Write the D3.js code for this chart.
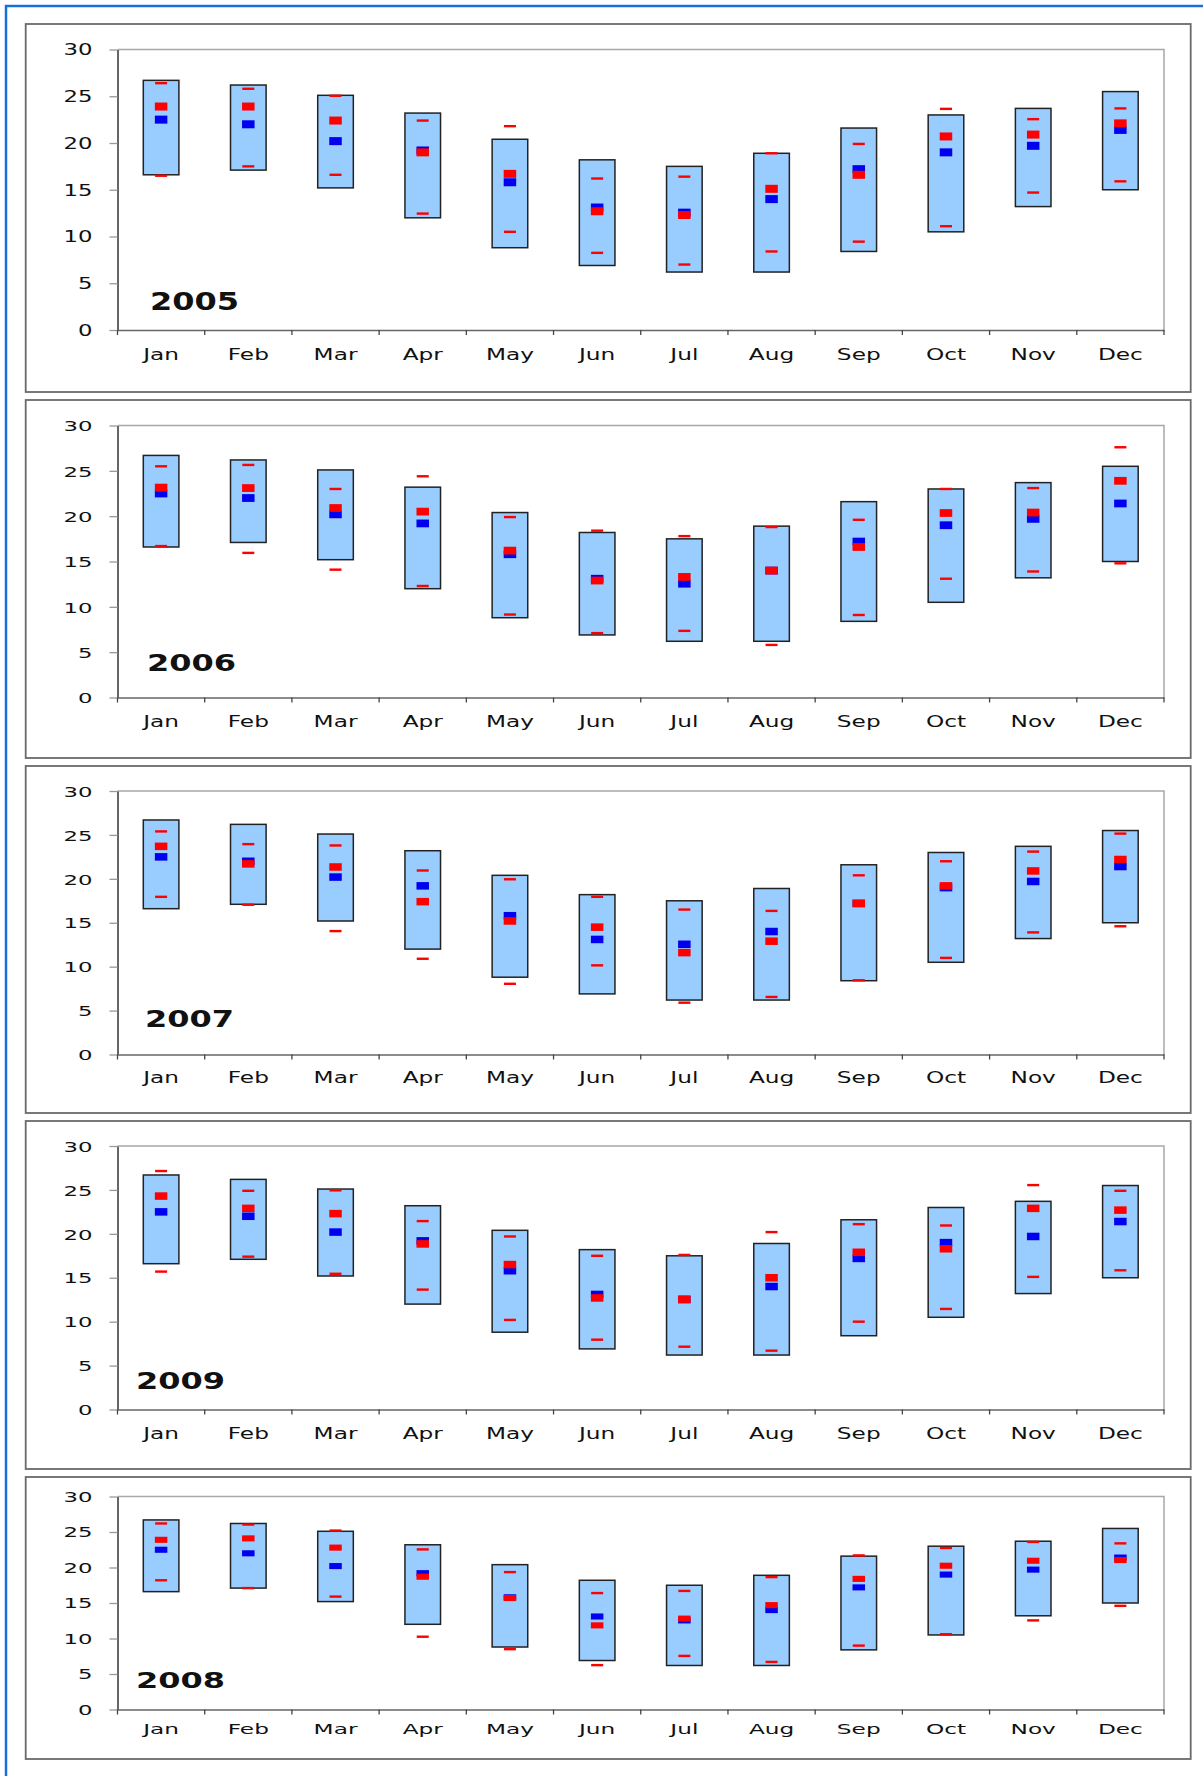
<!DOCTYPE html>
<html>
<head>
<meta charset="utf-8">
<script src="https://cdn.jsdelivr.net/npm/d3@7"></script>
<style>
  body { margin: 0; background: #fff; }
  svg text { font-family: "DejaVu Sans", Verdana, sans-serif; fill: #111; }
</style>
</head>
<body>
<svg id="chart" width="1203" height="1776"></svg>
<script>
// ---- data -------------------------------------------------------------
const months = ["Jan", "Feb", "Mar", "Apr", "May", "Jun", "Jul", "Aug", "Sep", "Oct", "Nov", "Dec"];
const yTicks = [0, 5, 10, 15, 20, 25, 30];

// long-term monthly range (light-blue boxes) and long-term mean (blue squares)
const rangeLow  = [16.6, 17.1, 15.2, 12.0, 8.8, 6.9, 6.2, 6.2, 8.4, 10.5, 13.2, 15.0];
const rangeHigh = [26.7, 26.2, 25.1, 23.2, 20.4, 18.2, 17.5, 18.9, 21.6, 23.0, 23.7, 25.5];
const normalMean = [22.5, 22.0, 20.2, 19.2, 15.8, 13.1, 12.55, 14.0, 17.2, 19.0, 19.7, 21.4];

// panel order as stacked on the page
const years = ["2005", "2006", "2007", "2009", "2008"];

// monthly mean of each year (red squares)
const mean2005 = [23.9, 23.9, 22.4, 19.0, 16.7, 12.7, 12.3, 15.1, 16.6, 20.7, 20.9, 22.1];
const mean2006 = [23.15, 23.1, 20.9, 20.5, 16.2, 12.9, 13.3, 14.0, 16.6, 20.35, 20.4, 23.9];
const mean2007 = [23.7, 21.7, 21.35, 17.4, 15.2, 14.5, 11.6, 12.9, 17.2, 19.2, 20.9, 22.2];
const mean2009 = [24.3, 22.9, 22.3, 18.85, 16.5, 12.7, 12.5, 15.0, 17.9, 18.3, 22.9, 22.7];
const mean2008 = [23.9, 24.1, 22.8, 18.7, 15.7, 11.85, 12.8, 14.7, 18.4, 20.25, 20.95, 21.05];

// monthly high of each year (upper red dash)
const high2005 = [26.4, 25.8, 25.05, 22.4, 21.8, 16.2, 16.4, 18.9, 19.9, 23.65, 22.55, 23.7];
const high2006 = [25.5, 25.65, 23.0, 24.4, 19.9, 18.4, 17.8, 18.8, 19.6, 23.0, 23.1, 27.6];
const high2007 = [25.4, 23.95, 23.8, 20.95, 19.95, 17.95, 16.5, 16.35, 20.4, 22.0, 23.1, 25.15];
const high2009 = [27.15, 24.9, 24.95, 21.45, 19.7, 17.5, 17.6, 20.2, 21.1, 20.95, 25.55, 24.9];
const high2008 = [26.2, 26.05, 25.2, 22.55, 19.35, 16.4, 16.7, 18.65, 21.7, 22.75, 23.6, 23.4];

// monthly low of each year (lower red dash)
const low2005 = [16.5, 17.5, 16.6, 12.45, 10.5, 8.25, 7.0, 8.4, 9.45, 11.1, 14.7, 15.9];
const low2006 = [16.7, 15.95, 14.1, 12.3, 9.15, 7.1, 7.35, 5.8, 9.1, 13.1, 13.9, 14.8];
const low2007 = [17.95, 17.05, 14.05, 10.9, 8.05, 10.15, 5.9, 6.55, 8.45, 11.0, 13.9, 14.6];
const low2009 = [15.7, 17.4, 15.45, 13.65, 10.2, 7.95, 7.15, 6.7, 10.0, 11.45, 15.1, 15.85];
const low2008 = [18.2, 17.1, 15.9, 10.25, 8.5, 6.25, 7.55, 6.7, 9.0, 10.6, 12.55, 14.6];

const yearMeans = [mean2005, mean2006, mean2007, mean2009, mean2008];
const yearHighs = [high2005, high2006, high2007, high2009, high2008];
const yearLows  = [low2005, low2006, low2007, low2009, low2008];

// ---- layout -----------------------------------------------------------
const panelLeft = 25.7, panelRight = 1190.7;
const plotLeft = 117.5, plotRight = 1164;
const panelLayout = [
  { top: 24,   bottom: 392,  plotTop: 49.5,  zero: 330,    yearX: 150, yearBase: 310,  labelDy: 24 },
  { top: 400,  bottom: 758,  plotTop: 425.5, zero: 697.5,  yearX: 147, yearBase: 671,  labelDy: 23.7 },
  { top: 766,  bottom: 1113, plotTop: 791,   zero: 1054.5, yearX: 145, yearBase: 1027, labelDy: 22.7 },
  { top: 1121, bottom: 1469, plotTop: 1146,  zero: 1409.5, yearX: 136, yearBase: 1389, labelDy: 24.4 },
  { top: 1477, bottom: 1759, plotTop: 1496.5, zero: 1709.5, yearX: 136, yearBase: 1688, labelDy: 19.5 }
];

const colors = { box: "#99ccff", boxLine: "#222", red: "#ff0000", blue: "#0000ee", frame: "#1a6fd6" };

const svg = d3.select("#chart");

// page frame (open to the right and bottom)
svg.append("rect")
  .attr("x", 6).attr("y", 6)
  .attr("width", 1400).attr("height", 2000)
  .attr("fill", "none")
  .attr("stroke", colors.frame)
  .attr("stroke-width", 2.5);

const x = d3.scaleBand().domain(months).range([plotLeft, plotRight]).paddingInner(0).paddingOuter(0);
const boxW = 35.6, markW = 12.5, dashW = 12;

years.forEach((year, p) => {
  const L = panelLayout[p];
  const plotH = L.zero - L.plotTop;
  const vRaw = plotH / 280.5;
  const vy = 0.5 + 0.5 * vRaw;        // vertical squeeze applied to text
  const markH = 8 * vRaw;

  const y = d3.scaleLinear().domain([0, 30]).range([L.zero, L.plotTop]);
  const g = svg.append("g").attr("class", "panel");

  // panel border
  g.append("rect")
    .attr("x", panelLeft).attr("y", L.top)
    .attr("width", panelRight - panelLeft).attr("height", L.bottom - L.top)
    .attr("fill", "#fff").attr("stroke", "#6a6a6a").attr("stroke-width", 1.8);

  // plot area top and right edges
  g.append("path")
    .attr("d", `M${plotLeft},${L.plotTop}H${plotRight}V${L.zero}`)
    .attr("fill", "none").attr("stroke", "#a8a8a8").attr("stroke-width", 1.5);

  // y axis
  const yAxis = g.append("g")
    .attr("transform", `translate(${plotLeft},0)`)
    .call(d3.axisLeft(y).tickValues(yTicks).tickSize(8).tickSizeOuter(0));
  yAxis.select(".domain").attr("stroke", "#333").attr("stroke-width", 1.5);
  yAxis.selectAll(".tick line").attr("stroke", "#999").attr("stroke-width", 1.3);
  yAxis.selectAll("text")
    .attr("x", null).attr("dy", "0.36em")
    .attr("font-size", 15)
    .attr("font-family", null)
    .attr("fill", "#111")
    .attr("transform", `translate(-25,0) scale(1.52,${vy})`);

  // x axis with month labels at band centres
  const xAxis = g.append("g")
    .attr("transform", `translate(0,${L.zero})`)
    .call(d3.axisBottom(x).tickSize(0).tickSizeOuter(0));
  xAxis.select(".domain").attr("stroke", "#666").attr("stroke-width", 1.5);
  xAxis.selectAll("text")
    .attr("y", null).attr("dy", "0.36em")
    .attr("font-size", 15.5)
    .attr("font-family", null)
    .attr("fill", "#111")
    .attr("transform", `translate(0,${L.labelDy}) scale(1.5,${vy})`);

  // category boundary ticks
  const bounds = months.map(m => x(m)).concat([plotRight]);
  g.append("g").selectAll("line").data(bounds).join("line")
    .attr("x1", d => d).attr("x2", d => d)
    .attr("y1", L.zero).attr("y2", L.zero + 5)
    .attr("stroke", "#444").attr("stroke-width", 1.3);

  // year label
  g.append("text")
    .attr("x", L.yearX).attr("y", L.yearBase)
    .attr("font-size", 24 * vy)
    .attr("font-weight", "bold")
    .attr("textLength", 89)
    .attr("lengthAdjust", "spacingAndGlyphs")
    .text(year);

  const cx = m => x(m) + x.bandwidth() / 2;

  // long-term range boxes
  g.append("g").selectAll("rect").data(months).join("rect")
    .attr("x", m => cx(m) - boxW / 2)
    .attr("y", (m, i) => y(rangeHigh[i]))
    .attr("width", boxW)
    .attr("height", (m, i) => y(rangeLow[i]) - y(rangeHigh[i]))
    .attr("fill", colors.box)
    .attr("stroke", colors.boxLine)
    .attr("stroke-width", 1.5);

  // yearly high / low dashes
  const dashes = g.append("g");
  [yearHighs[p], yearLows[p]].forEach(vals => {
    dashes.append("g").selectAll("rect").data(months).join("rect")
      .attr("x", m => cx(m) - dashW / 2)
      .attr("y", (m, i) => y(vals[i]) - 1.2)
      .attr("width", dashW).attr("height", 2.4)
      .attr("fill", colors.red);
  });

  // long-term mean (blue), then the year's mean (red) on top
  g.append("g").selectAll("rect").data(months).join("rect")
    .attr("x", m => cx(m) - markW / 2)
    .attr("y", (m, i) => y(normalMean[i]) - markH / 2)
    .attr("width", markW).attr("height", markH)
    .attr("fill", colors.blue);

  g.append("g").selectAll("rect").data(months).join("rect")
    .attr("x", m => cx(m) - markW / 2)
    .attr("y", (m, i) => y(yearMeans[p][i]) - markH / 2)
    .attr("width", markW).attr("height", markH)
    .attr("fill", colors.red);
});
</script>
</body>
</html>
